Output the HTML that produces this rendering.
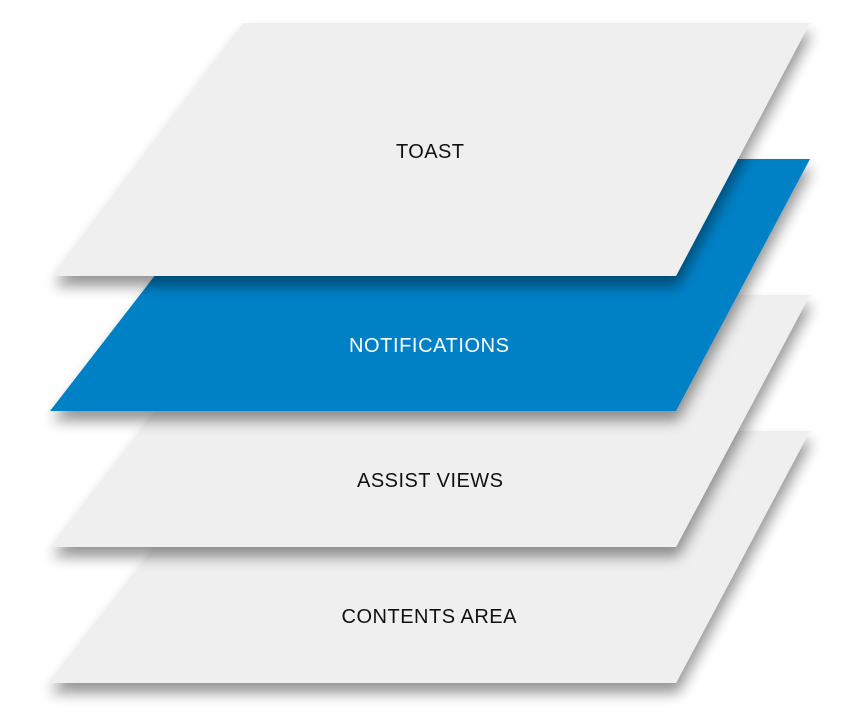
<!DOCTYPE html>
<html><head><style>
html,body{margin:0;padding:0;background:#fff;}
svg{display:block;}
text{font-family:"Liberation Sans",sans-serif;font-size:20px;}
</style></head><body>
<svg width="850" height="707" viewBox="0 0 850 707" xmlns="http://www.w3.org/2000/svg">
<defs>
<filter id="sh" x="-10%" y="-10%" width="130%" height="140%">
<feGaussianBlur in="SourceAlpha" stdDeviation="7"/>
<feOffset dx="2" dy="10" result="b"/>
<feComponentTransfer><feFuncA type="linear" slope="0.42"/></feComponentTransfer>
<feMerge><feMergeNode/><feMergeNode in="SourceGraphic"/></feMerge>
</filter>
</defs>
<polygon points="245,431 810,431 676,683 48,683" fill="#efefef" filter="url(#sh)"/>
<polygon points="245,295 810,295 676,547 50,547" fill="#efefef" filter="url(#sh)"/>
<polygon points="245,159 810,159 676,411 50,411" fill="#0081c6" filter="url(#sh)"/>
<polygon points="243,23 810,23 676,276 52,276" fill="#efefef" filter="url(#sh)"/>
<text x="430" y="158" text-anchor="middle" fill="#111" textLength="68">TOAST</text>
<text x="429" y="352" text-anchor="middle" fill="#fff" textLength="160">NOTIFICATIONS</text>
<text x="430" y="487" text-anchor="middle" fill="#111" textLength="146">ASSIST VIEWS</text>
<text x="429" y="623" text-anchor="middle" fill="#111" textLength="175">CONTENTS AREA</text>
</svg>
</body></html>
